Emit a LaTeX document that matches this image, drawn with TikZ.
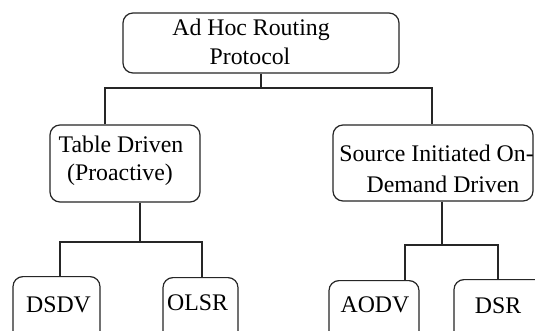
\documentclass[tikz,border=0pt]{standalone}
\usepackage{fontspec}
\setmainfont{Liberation Serif}
\begin{document}
\begin{tikzpicture}[x=1pt,y=-1pt,
  box/.style={draw=black!85, line width=1.2pt, rounded corners=10pt, inner sep=0pt},
  txt/.style={anchor=base, inner sep=0pt, font=\fontsize{23.8}{28}\selectfont, text=black},
  conn/.style={draw=black!85, line width=1.2pt}]
\useasboundingbox (0,0) rectangle (535,331);
\clip (0,0) rectangle (535,331);
\fill[white] (0,0) rectangle (535,331);
% boxes
\node[box, minimum width=276pt, minimum height=60pt] (top) at (261,43) {};
\node[box, minimum width=150pt, minimum height=77pt] (table) at (125,163.5) {};
\node[box, minimum width=200pt, minimum height=76pt] (source) at (433,163) {};
\node[box, minimum width=87pt, minimum height=80pt, anchor=north] (dsdv) at (56.5,276) {};
\node[box, minimum width=75pt, minimum height=80pt, anchor=north] (olsr) at (200.5,277) {};
\node[box, minimum width=90pt, minimum height=80pt, anchor=north] (aodv) at (374,280) {};
\node[box, minimum width=92pt, minimum height=80pt, anchor=north] (dsr) at (500,279) {};
% connector coordinates
\coordinate (b1) at (0,88);
\coordinate (lx1) at (105,0);
\coordinate (rx1) at (432,0);
\coordinate (b2) at (0,242);
\coordinate (lx2) at (140,0);
\coordinate (dx) at (60,0);
\coordinate (ox) at (202,0);
\coordinate (b3) at (0,245);
\coordinate (rx2) at (442,0);
\coordinate (ax) at (405,0);
\coordinate (sx) at (498,0);
% connectors
\draw[conn] (top.south) -- (top.south |- b1);
\draw[conn] (lx1 |- table.north) -- (lx1 |- b1) -- (rx1 |- b1) -- (rx1 |- source.north);
\draw[conn] (lx2 |- table.south) -- (lx2 |- b2);
\draw[conn] (dx |- dsdv.north) -- (dx |- b2) -- (ox |- b2) -- (ox |- olsr.north);
\draw[conn] (rx2 |- source.south) -- (rx2 |- b3);
\draw[conn] (ax |- aodv.north) -- (ax |- b3) -- (sx |- b3) -- (sx |- dsr.north);
% texts
\node[txt] (t1a) at (251,36) {Ad Hoc Routing};
\node[txt] (t1b) at (250,64.5) {Protocol};
\node[txt] (t2a) at (121,153) {Table Driven};
\node[txt] (t2b) at (120,180.5) {(Proactive)};
\node[txt] (t3a) at (436.5,161.5) {Source Initiated On-};
\node[txt] (t3b) at (443,192.5) {Demand Driven};
\node[txt] (t4) at (58.5,312) {DSDV};
\node[txt] (t5) at (197.5,310.5) {OLSR};
\node[txt] (t6) at (375,312) {AODV};
\node[txt] (t7) at (498,313) {DSR};
\end{tikzpicture}
\end{document}
